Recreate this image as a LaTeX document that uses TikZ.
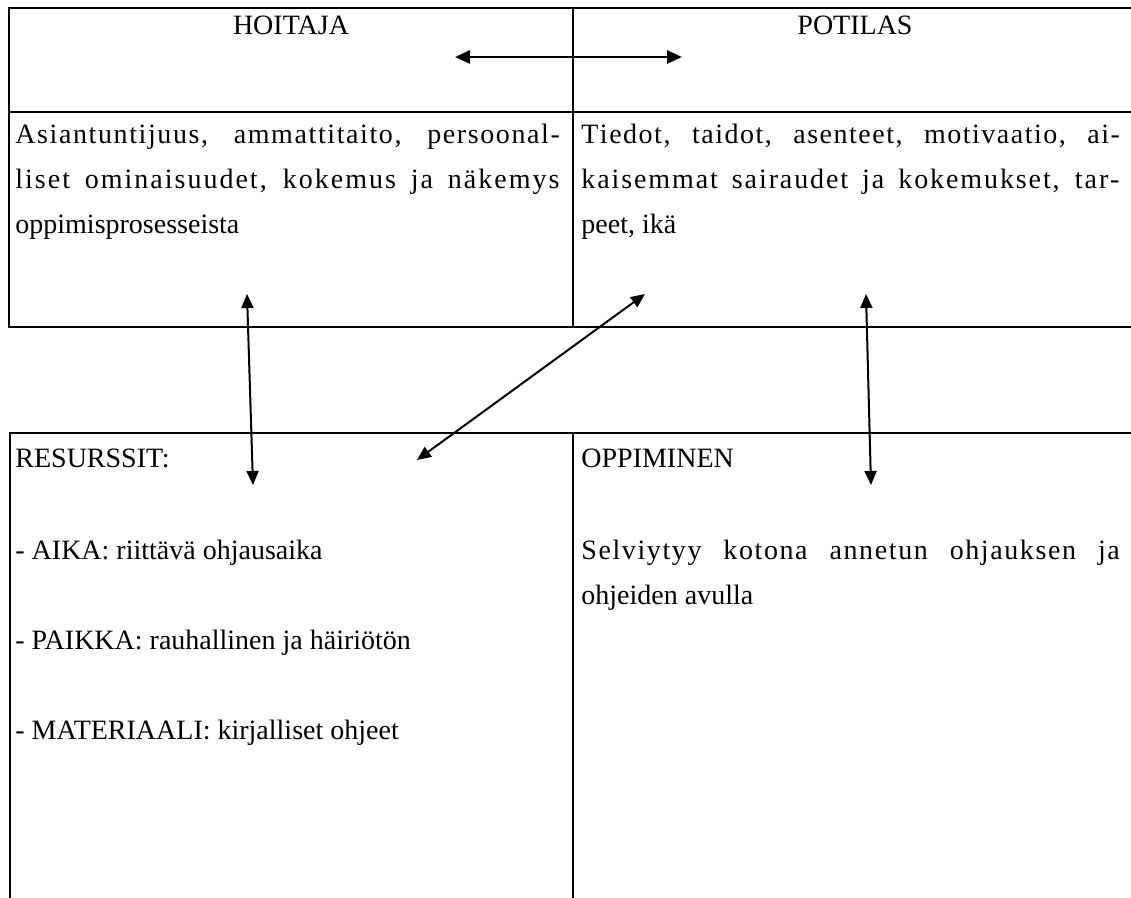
\documentclass[tikz,border=0pt]{standalone}
\usepackage{fontspec}
\setmainfont{Liberation Serif}
\usetikzlibrary{arrows.meta}
\tikzset{
  txt/.style={inner sep=0pt, anchor=base west, font=\fontsize{14pt}{22.5pt}\selectfont},
  hdr/.style={inner sep=0pt, anchor=base, font=\fontsize{14pt}{22.5pt}\selectfont},
  frame/.style={line width=1.4pt, line cap=rect},
  thinrule/.style={line width=0.7pt},
  dbl/.style={line width=1pt, {Triangle[length=7pt,width=6pt]}-{Triangle[length=7pt,width=6pt]}},
  dblthick/.style={line width=1.4pt, {Triangle[length=7.5pt,width=6.5pt]}-{Triangle[length=7.5pt,width=6.5pt]}}
}
\makeatletter
\newcommand{\lsw}[2]{\@tfor\lsch:=#2\do{\lsch\kern#1}}
\makeatother
\newcommand{\lineL}[1]{\makebox[273pt][s]{#1}}
\newcommand{\lineR}[1]{\makebox[270pt][s]{#1}}
\begin{document}
\begin{tikzpicture}[x=0.5pt,y=-0.5pt]
\useasboundingbox (0,0) rectangle (1131,898);
\fill[white] (0,0) rectangle (1131,898);
% top table
\draw[frame] (1131,8) -- (9,8) -- (9,327) -- (1131,327);
\draw[line width=1.2pt] (9,112) -- (1131,112);
\draw[thinrule] (573,8) -- (573,327);
% bottom table
\draw[frame] (1131,433) -- (10,433) -- (10,898);
\draw[line width=1pt] (573,433) -- (573,898);
% headers
\node[hdr] (hoitaja) at (291,35) {HOITAJA};
\node[hdr] (potilas) at (855,35) {POTILAS};
% top content
\node[txt] (h1) at (15,144) {\lineL{\lsw{0.8pt}{Asiantuntijuus,} \lsw{0.8pt}{ammattitaito,} \lsw{0.8pt}{persoonal-}}};
\node[txt] (h2) at (15,189) {\lineL{\lsw{1pt}{liset} \lsw{1pt}{ominaisuudet,} \lsw{1pt}{kokemus} \lsw{1pt}{ja} \lsw{1pt}{näkemys}}};
\node[txt] (h3) at (15,234) {oppimisprosesseista};
\node[txt] (p1) at (581,144) {\lineR{\lsw{0.75pt}{Tiedot,} \lsw{0.75pt}{taidot,} \lsw{0.75pt}{asenteet,} \lsw{0.75pt}{motivaatio,} \lsw{0.75pt}{ai-}}};
\node[txt] (p2) at (581,189) {\lineR{\lsw{0.95pt}{kaisemmat} \lsw{0.95pt}{sairaudet} \lsw{0.95pt}{ja} \lsw{0.95pt}{kokemukset,} \lsw{0.95pt}{tar-}}};
\node[txt] (p3) at (581,234) {peet, ikä};
% bottom content
\node[txt] (r0) at (15,468) {RESURSSIT:};
\node[txt] (r1) at (15,560) {- AIKA: riittävä ohjausaika};
\node[txt] (r2) at (15,650) {- PAIKKA: rauhallinen ja häiriötön};
\node[txt] (r3) at (15,740) {- MATERIAALI: kirjalliset ohjeet};
\node[txt] (o0) at (581,468) {OPPIMINEN};
\node[txt] (o1) at (581,560) {\lineR{\lsw{0.8pt}{Selviytyy} \lsw{0.8pt}{kotona} \lsw{0.8pt}{annetun} \lsw{0.8pt}{ohjauksen} \lsw{0.8pt}{ja}}};
\node[txt] (o2) at (581,605) {ohjeiden avulla};
% arrow endpoints
\coordinate (hL) at (455,57);
\coordinate (hR) at (682,57);
\coordinate (aT) at (247,294);
\coordinate (aB) at (253,485);
\coordinate (dT) at (645,294);
\coordinate (dB) at (417,460);
\coordinate (bT) at (866,294);
\coordinate (bB) at (871,485);
\draw[dblthick] (hL) -- (hR);
\draw[dbl] (aT) -- (aB);
\draw[dbl] (dT) -- (dB);
\draw[dbl] (bT) -- (bB);
\end{tikzpicture}
\end{document}
